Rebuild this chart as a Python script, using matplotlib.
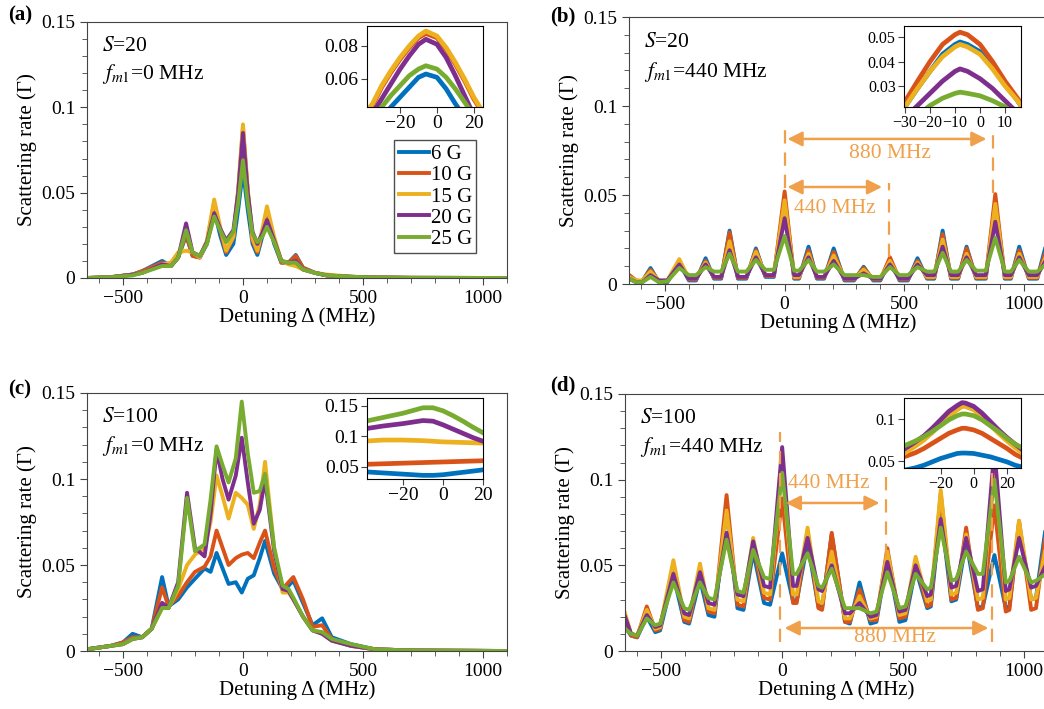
import numpy as np
import matplotlib
matplotlib.use('Agg')
import matplotlib.pyplot as plt
from matplotlib.ticker import MultipleLocator

plt.rcParams['font.family'] = ['Liberation Serif', 'DejaVu Serif']
plt.rcParams['mathtext.fontset'] = 'stix'
plt.rcParams['font.size'] = 13

labels = ['6 G', '10 G', '15 G', '20 G', '25 G']
colors = ['#0072BD', '#D95319', '#EDB120', '#7E2F8E', '#77AC30']
ann_color = '#F0A04B'

# ---- (a) S=20, fm1=0 MHz ----
x_a = [-650, -550, -460, -420, -337, -300, -270, -237, -210, -180, -150, -120, -95, -70, -40, -20, 0,
       20, 40, 60, 80, 100, 130, 160, 190, 220, 250, 300, 350, 450, 550, 700, 1100]
a_6G = [0, 0.0005, 0.002, 0.004, 0.010, 0.007, 0.012, 0.025, 0.013, 0.012, 0.020, 0.040, 0.025, 0.0135, 0.020, 0.040, 0.063,
        0.040, 0.020, 0.0135, 0.024, 0.037, 0.020, 0.009, 0.009, 0.0135, 0.006, 0.003, 0.0015, 0.0007, 0.0003, 0.0001, 0]
a_10G = [0, 0.0005, 0.002, 0.004, 0.009, 0.007, 0.012, 0.026, 0.013, 0.012, 0.021, 0.044, 0.028, 0.015, 0.024, 0.050, 0.088,
         0.050, 0.022, 0.015, 0.026, 0.040, 0.022, 0.009, 0.009, 0.013, 0.006, 0.003, 0.0015, 0.0007, 0.0003, 0.0001, 0]
a_15G = [0, 0.0005, 0.002, 0.003, 0.008, 0.009, 0.015, 0.016, 0.015, 0.012, 0.022, 0.046, 0.030, 0.016, 0.024, 0.052, 0.090,
         0.052, 0.023, 0.016, 0.028, 0.042, 0.024, 0.010, 0.008, 0.007, 0.005, 0.003, 0.002, 0.0008, 0.0003, 0.0001, 0]
a_20G = [0, 0.0005, 0.002, 0.003, 0.008, 0.007, 0.012, 0.032, 0.015, 0.013, 0.021, 0.038, 0.029, 0.022, 0.028, 0.050, 0.085,
         0.050, 0.027, 0.020, 0.026, 0.034, 0.022, 0.010, 0.009, 0.010, 0.005, 0.003, 0.0015, 0.0007, 0.0003, 0.0001, 0]
a_25G = [0, 0.0005, 0.0015, 0.003, 0.007, 0.007, 0.012, 0.028, 0.015, 0.013, 0.020, 0.036, 0.028, 0.021, 0.027, 0.044, 0.069,
         0.044, 0.026, 0.021, 0.024, 0.030, 0.021, 0.010, 0.009, 0.009, 0.005, 0.003, 0.0015, 0.0007, 0.0003, 0.0001, 0]

xi_a = [-40, -35, -30, -25, -20, -15, -10, -6, 0, 5, 10, 15, 20, 25]
ai_6G = [0.022, 0.029, 0.036, 0.043, 0.049, 0.055, 0.061, 0.063, 0.061, 0.054, 0.045, 0.037, 0.029, 0.022]
ai_10G = [0.037, 0.044, 0.055, 0.064, 0.072, 0.079, 0.085, 0.0875, 0.085, 0.078, 0.069, 0.059, 0.048, 0.039]
ai_15G = [0.038, 0.045, 0.056, 0.065, 0.073, 0.080, 0.086, 0.089, 0.086, 0.079, 0.070, 0.060, 0.049, 0.040]
ai_20G = [0.032, 0.039, 0.048, 0.057, 0.066, 0.074, 0.081, 0.084, 0.081, 0.073, 0.062, 0.050, 0.038, 0.028]
ai_25G = [0.030, 0.037, 0.043, 0.050, 0.056, 0.062, 0.066, 0.068, 0.066, 0.061, 0.054, 0.046, 0.038, 0.031]

# ---- (b) S=20, fm1=440 MHz ----
x_b = [-650, -620, -595, -560, -525, -490, -440, -400, -370, -330, -295, -265, -230, -195, -160, -120, -80, -45,
       0, 40, 60, 100, 135, 165, 205, 250, 290, 330, 370, 400, 440, 480, 515, 555, 595, 625,
       660, 695, 725, 760, 800, 840, 880, 920, 945, 980, 1020, 1055, 1090, 1100]
b_6G = [0.005, 0.0015, 0.0015, 0.009, 0.001, 0.001, 0.012, 0.002, 0.002, 0.0145, 0.003, 0.003, 0.030, 0.003, 0.003, 0.020, 0.004, 0.004,
        0.048, 0.003, 0.003, 0.021, 0.003, 0.003, 0.020, 0.002, 0.002, 0.0097, 0.002, 0.002, 0.014, 0.002, 0.002, 0.0145, 0.003, 0.003,
        0.030, 0.003, 0.003, 0.021, 0.003, 0.003, 0.046, 0.003, 0.003, 0.021, 0.003, 0.003, 0.021, 0.020]
b_10G = [0.005, 0.002, 0.0015, 0.008, 0.0015, 0.0015, 0.013, 0.0025, 0.0025, 0.013, 0.0035, 0.0035, 0.029, 0.0035, 0.0035, 0.019, 0.0045, 0.0045,
         0.052, 0.0035, 0.0035, 0.019, 0.0035, 0.0035, 0.018, 0.0025, 0.0025, 0.009, 0.0025, 0.0025, 0.015, 0.0025, 0.0025, 0.013, 0.0035, 0.0035,
         0.028, 0.0035, 0.0035, 0.020, 0.0035, 0.0035, 0.0505, 0.0035, 0.0035, 0.019, 0.0035, 0.0035, 0.018, 0.017]
b_15G = [0.004, 0.002, 0.002, 0.007, 0.002, 0.002, 0.014, 0.003, 0.003, 0.012, 0.004, 0.004, 0.024, 0.004, 0.004, 0.018, 0.005, 0.005,
         0.047, 0.004, 0.004, 0.017, 0.004, 0.004, 0.016, 0.003, 0.003, 0.008, 0.003, 0.003, 0.013, 0.003, 0.003, 0.012, 0.004, 0.004,
         0.025, 0.004, 0.004, 0.017, 0.004, 0.004, 0.045, 0.004, 0.004, 0.017, 0.004, 0.004, 0.015, 0.014]
b_20G = [0.003, 0.001, 0.001, 0.005, 0.002, 0.002, 0.011, 0.003, 0.003, 0.011, 0.004, 0.004, 0.019, 0.004, 0.004, 0.015, 0.005, 0.005,
         0.037, 0.005, 0.005, 0.015, 0.004, 0.004, 0.013, 0.003, 0.003, 0.006, 0.003, 0.003, 0.011, 0.003, 0.003, 0.011, 0.005, 0.005,
         0.021, 0.005, 0.005, 0.015, 0.005, 0.005, 0.035, 0.005, 0.005, 0.015, 0.005, 0.005, 0.013, 0.012]
b_25G = [0.003, 0.001, 0.001, 0.004, 0.001, 0.0015, 0.009, 0.005, 0.005, 0.0095, 0.007, 0.007, 0.017, 0.007, 0.007, 0.0135, 0.008, 0.008,
         0.027, 0.0075, 0.0075, 0.0135, 0.007, 0.007, 0.011, 0.005, 0.005, 0.005, 0.004, 0.004, 0.0095, 0.005, 0.005, 0.0095, 0.007, 0.007,
         0.0175, 0.007, 0.007, 0.0135, 0.0075, 0.0075, 0.026, 0.007, 0.007, 0.0135, 0.007, 0.007, 0.011, 0.0105]

xi_b = [-31, -25, -20, -15, -10, -8, -5, 0, 5, 10, 15, 17]
bi_6G = [0.020, 0.029, 0.036, 0.043, 0.047, 0.048, 0.047, 0.044, 0.038, 0.031, 0.024, 0.021]
bi_10G = [0.022, 0.032, 0.040, 0.047, 0.051, 0.052, 0.051, 0.047, 0.040, 0.032, 0.025, 0.022]
bi_15G = [0.020, 0.029, 0.036, 0.042, 0.046, 0.047, 0.046, 0.043, 0.037, 0.030, 0.024, 0.021]
bi_20G = [0.016, 0.022, 0.027, 0.032, 0.036, 0.037, 0.036, 0.033, 0.029, 0.024, 0.019, 0.017]
bi_25G = [0.014, 0.018, 0.022, 0.025, 0.027, 0.0275, 0.027, 0.026, 0.024, 0.0215, 0.018, 0.017]

# ---- (c) S=100, fm1=0 MHz ----
x_c = [-650, -550, -500, -460, -420, -380, -337, -310, -270, -233, -200, -160, -135, -110, -85, -60, -30, -5,
       20, 45, 70, 92, 130, 165, 190, 210, 250, 290, 330, 370, 450, 550, 700, 1100]
c_6G = [0.001, 0.003, 0.005, 0.010, 0.008, 0.013, 0.043, 0.026, 0.030, 0.037, 0.042, 0.048, 0.046, 0.057, 0.048, 0.039, 0.040, 0.034,
        0.042, 0.044, 0.054, 0.064, 0.045, 0.036, 0.038, 0.041, 0.028, 0.015, 0.019, 0.008, 0.004, 0.001, 0.0003, 0]
c_10G = [0.001, 0.003, 0.005, 0.008, 0.008, 0.013, 0.037, 0.026, 0.032, 0.040, 0.046, 0.049, 0.055, 0.070, 0.060, 0.050, 0.054, 0.056,
         0.057, 0.054, 0.063, 0.070, 0.048, 0.036, 0.040, 0.043, 0.030, 0.014, 0.015, 0.007, 0.003, 0.001, 0.0003, 0]
c_15G = [0.001, 0.003, 0.004, 0.007, 0.008, 0.013, 0.025, 0.025, 0.036, 0.050, 0.056, 0.060, 0.075, 0.102, 0.090, 0.077, 0.092, 0.089,
         0.085, 0.071, 0.085, 0.110, 0.060, 0.034, 0.034, 0.030, 0.020, 0.012, 0.010, 0.006, 0.003, 0.001, 0.0003, 0]
c_20G = [0.001, 0.003, 0.004, 0.007, 0.008, 0.013, 0.028, 0.025, 0.040, 0.092, 0.060, 0.055, 0.080, 0.117, 0.100, 0.088, 0.102, 0.124,
         0.098, 0.074, 0.082, 0.100, 0.058, 0.036, 0.035, 0.030, 0.020, 0.012, 0.010, 0.006, 0.003, 0.001, 0.0003, 0]
c_25G = [0.001, 0.003, 0.004, 0.007, 0.008, 0.013, 0.025, 0.025, 0.038, 0.089, 0.058, 0.062, 0.088, 0.119, 0.108, 0.098, 0.112, 0.145,
         0.115, 0.092, 0.093, 0.103, 0.060, 0.038, 0.036, 0.031, 0.020, 0.012, 0.011, 0.007, 0.004, 0.001, 0.0003, 0]

xi_c = [-40, -30, -20, -10, -5, 0, 5, 10, 15, 20]
ci_6G = [0.042, 0.040, 0.038, 0.036, 0.036, 0.037, 0.039, 0.041, 0.043, 0.045]
ci_10G = [0.054, 0.055, 0.056, 0.057, 0.0575, 0.058, 0.0585, 0.059, 0.0595, 0.060]
ci_15G = [0.092, 0.094, 0.094, 0.093, 0.092, 0.091, 0.0905, 0.090, 0.0895, 0.089]
ci_20G = [0.112, 0.117, 0.121, 0.126, 0.125, 0.119, 0.112, 0.105, 0.098, 0.092]
ci_25G = [0.124, 0.131, 0.138, 0.147, 0.147, 0.142, 0.134, 0.125, 0.115, 0.106]

# ---- (d) S=100, fm1=440 MHz ----
x_d = [-650, -625, -600, -560, -525, -505, -450, -405, -385, -340, -305, -280, -230, -185, -160, -120, -75, -50,
       0, 45, 60, 105, 150, 165, 205, 260, 280, 320, 365, 390, 435, 485, 510, 552, 600, 615,
       656, 700, 720, 761, 810, 830, 878, 925, 940, 980, 1030, 1050, 1090, 1100]
d_6G = [0.014, 0.009, 0.008, 0.020, 0.011, 0.012, 0.044, 0.017, 0.016, 0.042, 0.021, 0.020, 0.083, 0.025, 0.024, 0.058, 0.028, 0.027,
        0.057, 0.029, 0.029, 0.063, 0.026, 0.025, 0.068, 0.017, 0.016, 0.040, 0.016, 0.017, 0.055, 0.017, 0.018, 0.048, 0.025, 0.026,
        0.082, 0.029, 0.030, 0.064, 0.025, 0.026, 0.056, 0.025, 0.026, 0.073, 0.030, 0.031, 0.072, 0.071]
d_10G = [0.018, 0.009, 0.008, 0.026, 0.012, 0.013, 0.050, 0.018, 0.017, 0.047, 0.023, 0.022, 0.091, 0.027, 0.026, 0.062, 0.031, 0.030,
         0.089, 0.028, 0.028, 0.070, 0.025, 0.024, 0.069, 0.017, 0.017, 0.036, 0.018, 0.018, 0.060, 0.019, 0.020, 0.052, 0.026, 0.027,
         0.092, 0.030, 0.031, 0.072, 0.024, 0.025, 0.085, 0.023, 0.024, 0.076, 0.024, 0.025, 0.068, 0.066]
d_15G = [0.022, 0.010, 0.009, 0.024, 0.013, 0.014, 0.053, 0.020, 0.019, 0.051, 0.025, 0.024, 0.082, 0.030, 0.029, 0.066, 0.034, 0.033,
         0.110, 0.033, 0.033, 0.072, 0.029, 0.028, 0.058, 0.019, 0.019, 0.032, 0.019, 0.020, 0.058, 0.021, 0.022, 0.055, 0.029, 0.030,
         0.094, 0.033, 0.034, 0.068, 0.030, 0.031, 0.110, 0.030, 0.031, 0.076, 0.030, 0.031, 0.060, 0.058]
d_20G = [0.020, 0.010, 0.009, 0.021, 0.014, 0.015, 0.045, 0.022, 0.021, 0.046, 0.028, 0.027, 0.069, 0.033, 0.032, 0.064, 0.038, 0.037,
         0.119, 0.038, 0.038, 0.066, 0.036, 0.035, 0.050, 0.022, 0.022, 0.028, 0.020, 0.021, 0.052, 0.023, 0.024, 0.050, 0.032, 0.033,
         0.077, 0.037, 0.038, 0.066, 0.035, 0.036, 0.118, 0.035, 0.036, 0.066, 0.037, 0.038, 0.050, 0.048]
d_25G = [0.013, 0.010, 0.009, 0.019, 0.015, 0.016, 0.040, 0.025, 0.024, 0.040, 0.031, 0.030, 0.065, 0.035, 0.034, 0.059, 0.043, 0.042,
         0.104, 0.045, 0.045, 0.057, 0.038, 0.037, 0.048, 0.025, 0.025, 0.025, 0.022, 0.023, 0.046, 0.025, 0.026, 0.045, 0.036, 0.037,
         0.072, 0.041, 0.042, 0.058, 0.045, 0.045, 0.100, 0.040, 0.041, 0.055, 0.040, 0.041, 0.045, 0.044]

xi_d = [-42, -35, -30, -25, -20, -15, -10, -7, -5, 0, 5, 10, 15, 20, 25, 29]
di_6G = [0.039, 0.042, 0.045, 0.049, 0.053, 0.056, 0.059, 0.0595, 0.0595, 0.059, 0.057, 0.055, 0.052, 0.049, 0.045, 0.043]
di_10G = [0.055, 0.060, 0.065, 0.071, 0.077, 0.083, 0.087, 0.089, 0.089, 0.087, 0.083, 0.077, 0.071, 0.065, 0.058, 0.054]
di_15G = [0.059, 0.068, 0.075, 0.084, 0.094, 0.104, 0.111, 0.115, 0.115, 0.111, 0.103, 0.093, 0.083, 0.074, 0.066, 0.060]
di_20G = [0.064, 0.073, 0.080, 0.089, 0.099, 0.109, 0.116, 0.1195, 0.119, 0.115, 0.107, 0.097, 0.087, 0.078, 0.070, 0.064]
di_25G = [0.068, 0.074, 0.079, 0.085, 0.092, 0.099, 0.104, 0.106, 0.106, 0.104, 0.099, 0.092, 0.085, 0.077, 0.070, 0.066]

LW = 2.8


def main_axes(fig, rect, x, series, title_s, title_f):
    ax = fig.add_axes(rect)
    for y, c, lab in zip(series, colors, labels):
        ax.plot(x, y, color=c, lw=LW, label=lab, solid_joinstyle='round')
    ax.set_xlim(-650, 1100)
    ax.set_ylim(0, 0.15)
    ax.set_xticks([-500, 0, 500, 1000])
    ax.set_xticklabels(['\u2212500', '0', '500', '1000'])
    ax.set_yticks([0, 0.05, 0.1, 0.15])
    ax.set_yticklabels(['0', '0.05', '0.1', '0.15'])
    ax.xaxis.set_minor_locator(MultipleLocator(100))
    ax.yaxis.set_minor_locator(MultipleLocator(0.01))
    ax.tick_params(which='both', direction='out', top=False, right=False, labelsize=14, color='#444444')
    ax.tick_params(which='major', length=5)
    ax.tick_params(which='minor', length=3.5)
    for s in ax.spines.values():
        s.set_color('#444444')
    ax.set_xlabel('Detuning \u0394 (MHz)', fontsize=15, labelpad=0)
    ax.set_ylabel('Scattering rate (\u0393)', fontsize=15, labelpad=3)
    ax.text(0.035, 0.905, r'$S$=' + title_s, transform=ax.transAxes, fontsize=15.5, va='center')
    ax.text(0.035, 0.795, r'$f_{m1}$=' + title_f, transform=ax.transAxes, fontsize=15.5, va='center')
    return ax


def inset_axes(fig, rect, x, series, xlim, ylim, xt, yt, yl, fs):
    ax = fig.add_axes(rect)
    for y, c in zip(series, colors):
        ax.plot(x, y, color=c, lw=LW + 0.6, solid_joinstyle='round')
    ax.set_xlim(*xlim)
    ax.set_ylim(*ylim)
    ax.set_xticks(xt)
    ax.set_xticklabels([str(v).replace('-', '\u2212') for v in xt])
    ax.set_yticks(yt)
    ax.set_yticklabels(yl)
    ax.tick_params(direction='out', length=4, labelsize=fs, pad=2, color='#444444')
    return ax


fig = plt.figure(figsize=(10.44, 7.09), dpi=100)

ax_a = main_axes(fig, [0.0833, 0.6079, 0.4023, 0.3611], x_a,
                 [a_6G, a_10G, a_15G, a_20G, a_25G], '20', '0 MHz')
ax_a.legend(loc='upper left', bbox_to_anchor=(0.732, 0.538), frameon=True, fancybox=False,
            edgecolor='#222222', fontsize=15, handlelength=1.45, handletextpad=0.1,
            labelspacing=0.08, borderpad=0.2, borderaxespad=0)
inset_axes(fig, [0.3515, 0.849, 0.1111, 0.1142], xi_a, [ai_6G, ai_10G, ai_15G, ai_20G, ai_25G],
           (-38, 25), (0.043, 0.092), [-20, 0, 20], [0.06, 0.08], ['0.06', '0.08'], 14)

ax_b = main_axes(fig, [0.6025, 0.5994, 0.4013, 0.3766], x_b,
                 [b_6G, b_10G, b_15G, b_20G, b_25G], '20', '440 MHz')
inset_axes(fig, [0.8659, 0.849, 0.1121, 0.1142], xi_b, [bi_6G, bi_10G, bi_15G, bi_20G, bi_25G],
           (-30.4, 16.4), (0.0214, 0.0545), [-30, -20, -10, 0, 10], [0.03, 0.04, 0.05],
           ['0.03', '0.04', '0.05'], 11.5)

ax_c = main_axes(fig, [0.0833, 0.0818, 0.4023, 0.3639], x_c,
                 [c_6G, c_10G, c_15G, c_20G, c_25G], '100', '0 MHz')
inset_axes(fig, [0.3515, 0.3244, 0.1111, 0.1142], xi_c, [ci_6G, ci_10G, ci_15G, ci_20G, ci_25G],
           (-38, 20), (0.030, 0.163), [-20, 0, 20], [0.05, 0.1, 0.15], ['0.05', '0.1', '0.15'], 14)

ax_d = main_axes(fig, [0.5987, 0.0818, 0.4052, 0.3625], x_d,
                 [d_6G, d_10G, d_15G, d_20G, d_25G], '100', '440 MHz')
inset_axes(fig, [0.8659, 0.3399, 0.1121, 0.0987], xi_d, [di_6G, di_10G, di_15G, di_20G, di_25G],
           (-42, 28.5), (0.0417, 0.125), [-20, 0, 20], [0.05, 0.1], ['0.05', '0.1'], 11.5)

# annotations (b)
dash = dict(color=ann_color, lw=1.6, ls=(0, (6, 4)), zorder=5)
ax_b.plot([0, 0], [0.054, 0.089], **dash)
ax_b.plot([436, 436], [0.015, 0.057], **dash)
ax_b.plot([869, 869], [0.051, 0.0875], **dash)
arr = dict(arrowstyle='<|-|>', color=ann_color, lw=1.8, mutation_scale=22, shrinkA=0, shrinkB=0)
ax_b.annotate('', xy=(12, 0.0815), xytext=(843, 0.0815), arrowprops=arr)
ax_b.annotate('', xy=(12, 0.0545), xytext=(407, 0.0545), arrowprops=arr)
ax_b.text(440, 0.0735, '880 MHz', color=ann_color, fontsize=15.5, ha='center', va='center')
ax_b.text(208, 0.0425, '440 MHz', color=ann_color, fontsize=15.5, ha='center', va='center')

# annotations (d)
ax_d.plot([-8, -8], [0.005, 0.128], **dash)
ax_d.plot([430, 430], [0.055, 0.104], **dash)
ax_d.plot([870, 870], [0.005, 0.104], **dash)
ax_d.annotate('', xy=(15, 0.0864), xytext=(403, 0.0864), arrowprops=arr)
ax_d.annotate('', xy=(10, 0.0134), xytext=(853, 0.0134), arrowprops=arr)
ax_d.text(193, 0.098, '440 MHz', color=ann_color, fontsize=15.5, ha='center', va='center')
ax_d.text(467, 0.0076, '880 MHz', color=ann_color, fontsize=15.5, ha='center', va='center')

# panel letters
for lab, x, y in [('(a)', 0.008, 0.978), ('(b)', 0.527, 0.977), ('(c)', 0.008, 0.45), ('(d)', 0.527, 0.457)]:
    fig.text(x, y, lab, fontsize=15, fontweight='bold', va='center')

plt.savefig('out.png', dpi=100)
